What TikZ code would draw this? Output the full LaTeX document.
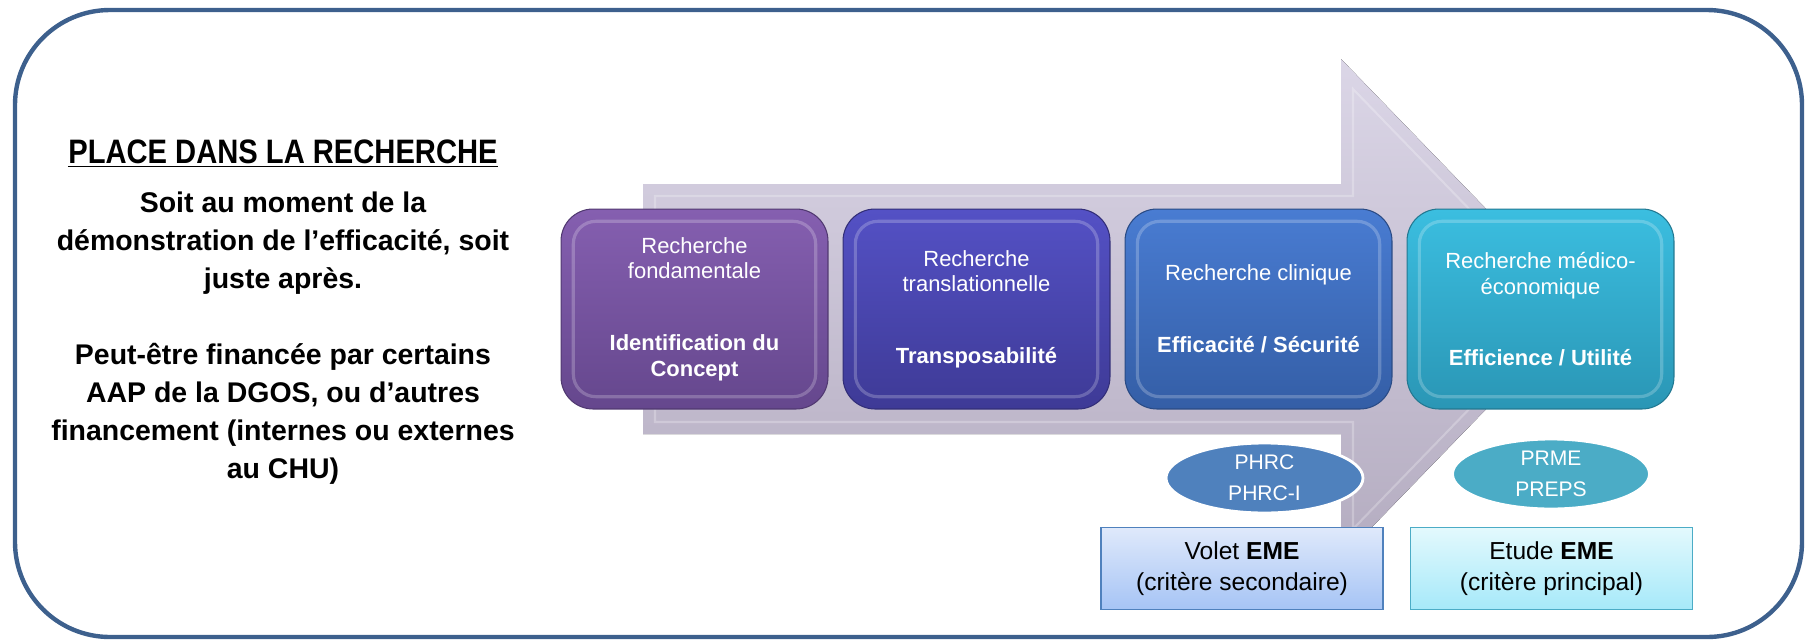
\documentclass[tikz,border=0pt]{standalone}
\usepackage{fontspec}
\setmainfont{Liberation Sans}
\newfontfamily\narrowfont[FakeStretch=0.86]{Liberation Sans}
\usetikzlibrary{shapes.geometric}

\definecolor{framecol}{RGB}{61,96,141}
\definecolor{arrowtop}{RGB}{219,214,231}
\definecolor{arrowbot}{RGB}{180,172,192}
\definecolor{fondtop}{RGB}{133,95,176}
\definecolor{fondbot}{RGB}{101,71,141}
\definecolor{transtop}{RGB}{84,81,197}
\definecolor{transbot}{RGB}{62,58,150}
\definecolor{clintop}{RGB}{73,124,210}
\definecolor{clinbot}{RGB}{52,94,166}
\definecolor{medtop}{RGB}{59,190,224}
\definecolor{medbot}{RGB}{42,150,181}
\definecolor{phrccol}{RGB}{79,129,189}
\definecolor{prmecol}{RGB}{75,172,198}
\definecolor{voletop}{RGB}{223,233,251}
\definecolor{voletbot}{RGB}{166,196,245}
\definecolor{etudetop}{RGB}{227,249,253}
\definecolor{etudebot}{RGB}{166,233,249}

\begin{document}
\begin{tikzpicture}[x=0.02cm, y=-0.02cm,
    stage/.style n args={2}{rounded corners=0.64cm, minimum width=5.34cm,
        minimum height=4cm, inner sep=0pt, align=center, text=white,
        top color=#1, bottom color=#2, draw=#2!80!black, line width=0.6pt,
        font=\fontsize{12.5}{14.7}\selectfont,
        path picture={\draw[white, opacity=0.22, line width=1.8pt, rounded corners=0.45cm]
            ([shift={(7pt,-7pt)}]path picture bounding box.north west) rectangle
            ([shift={(-7pt,7pt)}]path picture bounding box.south east);}},
    fund/.style={ellipse, minimum width=3.94cm, minimum height=1.4cm, inner sep=0pt,
        fill=#1, draw=white, line width=1.6pt},
    fundtext/.style={text=white, align=center, font=\fontsize{12}{17.6}\selectfont},
    eme/.style n args={3}{minimum width=5.64cm, minimum height=1.64cm, inner sep=0pt,
        align=center, top color=#1, bottom color=#2, draw=#3, line width=0.9pt,
        font=\fontsize{14}{18}\selectfont}]

    \useasboundingbox (0,0) rectangle (1813,640);
    \draw[framecol, line width=2.5pt, rounded corners=1.9cm] (15,10) rectangle (1802,637);

    \node[inner sep=0pt, anchor=base, font=\narrowfont\bfseries\fontsize{19.3}{23}\selectfont]
        (title) at (283,163) {PLACE DANS LA RECHERCHE};
    \draw[line width=1.1pt] ([yshift=-2pt]title.base west) -- ([yshift=-2pt]title.base east);
    \node[inner sep=0pt, anchor=north, align=center, font=\bfseries\fontsize{16.2}{21.6}\selectfont]
        (intro) at (283,192) {Soit au moment de la\\démonstration de l’efficacité, soit\\juste après.\\[21.6pt]Peut-être financée par certains\\AAP de la DGOS, ou d’autres\\financement (internes ou externes\\au CHU)};

    \fill[top color=arrowtop, bottom color=arrowbot] (643,184) -- (1341,184) -- (1341,59)
        -- (1583,309) -- (1341,559) -- (1341,434) -- (643,434) -- cycle;
    \draw[white, opacity=0.25, line width=1.2pt] (655,196) -- (1353,196) -- (1353,89)
        -- (1566,309) -- (1353,529) -- (1353,422) -- (655,422) -- cycle;

    \node[stage={fondtop}{fondbot}] (fond) at (694.5,309)
        {Recherche\\fondamentale\\[26pt]\textbf{Identification du}\\\textbf{Concept}};
    \node[stage={transtop}{transbot}] (trans) at (976.5,309)
        {Recherche\\translationnelle\\[26pt]\textbf{Transposabilité}};
    \node[stage={clintop}{clinbot}] (clin) at (1258.5,309)
        {Recherche clinique\\[26pt]\textbf{Efficacité / Sécurité}};
    \node[stage={medtop}{medbot}] (med) at (1540.5,309)
        {Recherche médico-\\économique\\[26pt]\textbf{Efficience / Utilité}};

    \node[fund=phrccol] (phrc) at (1264.5,478) {};
    \node[fundtext] (phrctext) at (phrc) {PHRC\\PHRC-I};
    \node[fund=prmecol] (prme) at (1551,474) {};
    \node[fundtext] (prmetext) at (prme) {PRME\\PREPS};

    \node[eme={voletop}{voletbot}{phrccol}] (volet) at (1242,568.5)
        {Volet \textbf{EME}\\(critère secondaire)};
    \node[eme={etudetop}{etudebot}{prmecol}] (etude) at (1551.5,568.5)
        {Etude \textbf{EME}\\(critère principal)};
\end{tikzpicture}
\end{document}
